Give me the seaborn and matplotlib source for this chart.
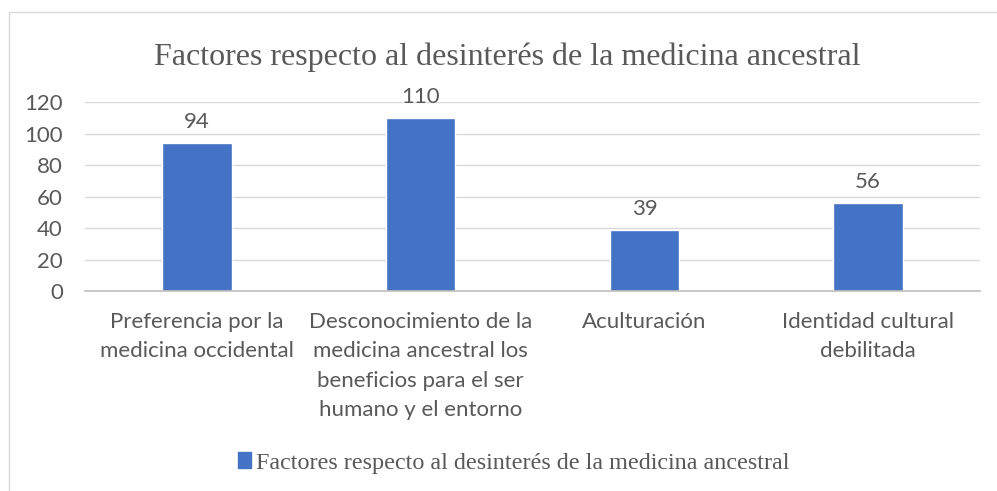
import pandas as pd
import matplotlib.pyplot as plt
import seaborn as sns
from matplotlib.patches import Rectangle, Patch

categorias = [
    "Preferencia por la\nmedicina occidental",
    "Desconocimiento de la\nmedicina ancestral los\nbeneficios para el ser\nhumano y el entorno",
    "Aculturación",
    "Identidad cultural\ndebilitada",
]
valores = [94, 110, 39, 56]
serie = "Factores respecto al desinterés de la medicina ancestral"

df = pd.DataFrame({"Factor": categorias, "Valor": valores})

sns.set_theme(style="white")
plt.rcParams["font.family"] = ["Lato", "DejaVu Sans"]
gris = "#595959"

fig = plt.figure(figsize=(9.97, 4.91), dpi=100)
ax = fig.add_axes([0.0853, 0.407, 0.8977, 0.385])

sns.barplot(data=df, x="Factor", y="Valor", color="#4472C4", width=0.31,
            saturation=1, ax=ax)

ax.set_ylim(0, 120)
ax.set_yticks(range(0, 121, 20))
ax.yaxis.grid(True, color="#d9d9d9", linewidth=1)
ax.set_axisbelow(True)
for s in ["top", "right", "left"]:
    ax.spines[s].set_visible(False)
ax.spines["bottom"].set_color("#bfbfbf")
ax.spines["bottom"].set_linewidth(1.2)
ax.set_xlabel("")
ax.set_ylabel("")
ax.tick_params(axis="both", length=0, labelsize=16, labelcolor=gris)
ax.tick_params(axis="x", pad=15)
ax.tick_params(axis="y", pad=16)
for lbl in ax.get_xticklabels():
    lbl.set_verticalalignment("top")
    lbl.set_multialignment("center")
    lbl.set_linespacing(1.58)

for i, v in enumerate(valores):
    ax.annotate(str(v), (i, v), xytext=(0, 8), textcoords="offset points",
                ha="center", va="bottom", fontsize=16, color=gris)

fig.text(507 / 997, 1 - 57 / 491, serie, ha="center", va="center",
         fontsize=23, color=gris, family="Liberation Serif")

fig.legend(handles=[Patch(color="#4472C4")], labels=[serie],
           loc="center", bbox_to_anchor=(0.515, 1 - 463 / 491), frameon=False,
           prop={"family": "Liberation Serif", "size": 17.4},
           labelcolor=gris, handlelength=0.55, handleheight=0.6, handletextpad=0.2)

fig.patches.append(Rectangle((9 / 997, -0.1), 1.2, 1 - 12 / 491 + 0.1,
                             transform=fig.transFigure, fill=False,
                             edgecolor="#d9d9d9", linewidth=1))

fig.savefig("out.png", dpi=100)
